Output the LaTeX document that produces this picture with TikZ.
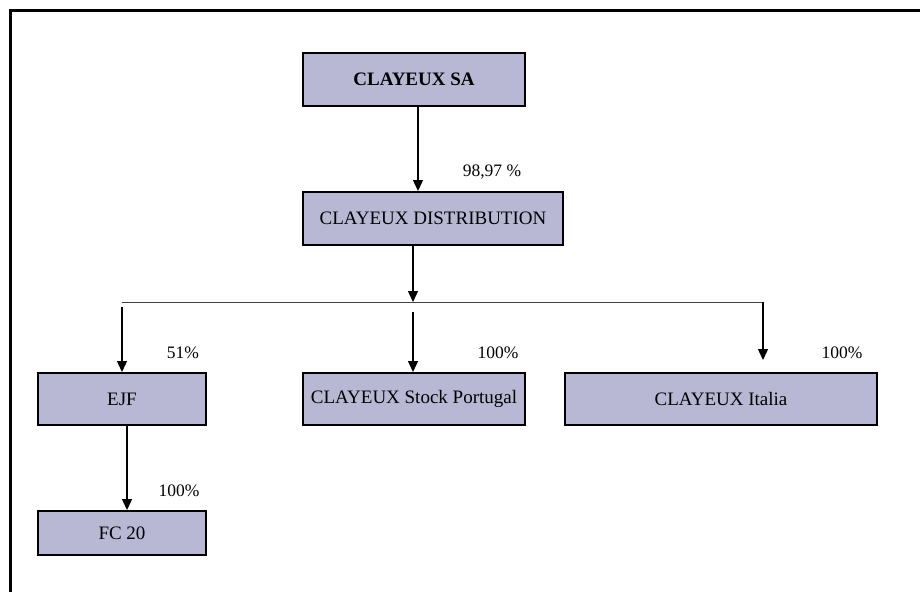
\documentclass[tikz,border=0pt]{standalone}
\usepackage{fontspec}
\setmainfont{Liberation Serif}
\usetikzlibrary{arrows.meta}
\definecolor{boxfill}{RGB}{184,184,212}
\definecolor{busgrey}{RGB}{64,64,64}
\tikzset{
  orgbox/.style={draw=black, line width=2pt, fill=boxfill, inner sep=0pt, font=\fontsize{19}{22}\selectfont},
  arr/.style={draw=black, line width=1.3pt, -{Triangle[length=11pt,width=10pt]}},
  bus/.style={draw=busgrey, line width=1pt},
  pct/.style={font=\fontsize{17.5}{20}\selectfont, inner sep=0pt},
  frame/.style={draw=black, line width=3pt}
}
\begin{document}
\begin{tikzpicture}[x=1pt,y=-1pt]
\useasboundingbox (0,0) rectangle (920,592);
\draw[frame] (920,10.5) -- (10.5,10.5) -- (10.5,592);
% boxes
\node[orgbox, minimum width=222pt, minimum height=53pt] (sa) at (414,79.5) {\textbf{CLAYEUX SA}};
\node[orgbox, minimum width=260pt, minimum height=53pt] (dist) at (433,218.5) {CLAYEUX DISTRIBUTION};
\node[orgbox, minimum width=168pt, minimum height=52pt] (ejf) at (122,399) {EJF};
\node[orgbox, minimum width=222pt, minimum height=52pt] (stock) at (414,399) {CLAYEUX Stock Portugal};
\node[orgbox, minimum width=312pt, minimum height=52pt] (italia) at (721,399) {CLAYEUX Italia};
\node[orgbox, minimum width=168pt, minimum height=44pt] (fc) at (122,533) {FC 20};
% bus coordinates
\coordinate (busL) at (122,302);
\coordinate (busM) at (413,302);
\coordinate (busR) at (763,302);
\coordinate (italiaEnd) at (763,360);
% connectors
\draw[arr] ([xshift=4pt]sa.south) -- ([xshift=4pt]sa.south |- dist.north);
\draw[arr] (busM |- dist.south) -- (busM);
\draw[bus] (busL) -- (busR);
\draw[arr] ([yshift=-5pt]busL) -- (ejf.north);
\draw[arr] ([yshift=-10pt]busM) -- (busM |- stock.north);
\draw[arr] (busR) -- (italiaEnd);
\draw[arr] ([xshift=5pt]ejf.south) -- ([xshift=5pt]ejf.south |- fc.north);
% percentages
\node[pct] (p1) at (492,172) {98,97 \%};
\node[pct] (p2) at (183,353) {51\%};
\node[pct] (p3) at (498,353) {100\%};
\node[pct] (p4) at (842,353) {100\%};
\node[pct] (p5) at (179,491) {100\%};
\end{tikzpicture}
\end{document}
